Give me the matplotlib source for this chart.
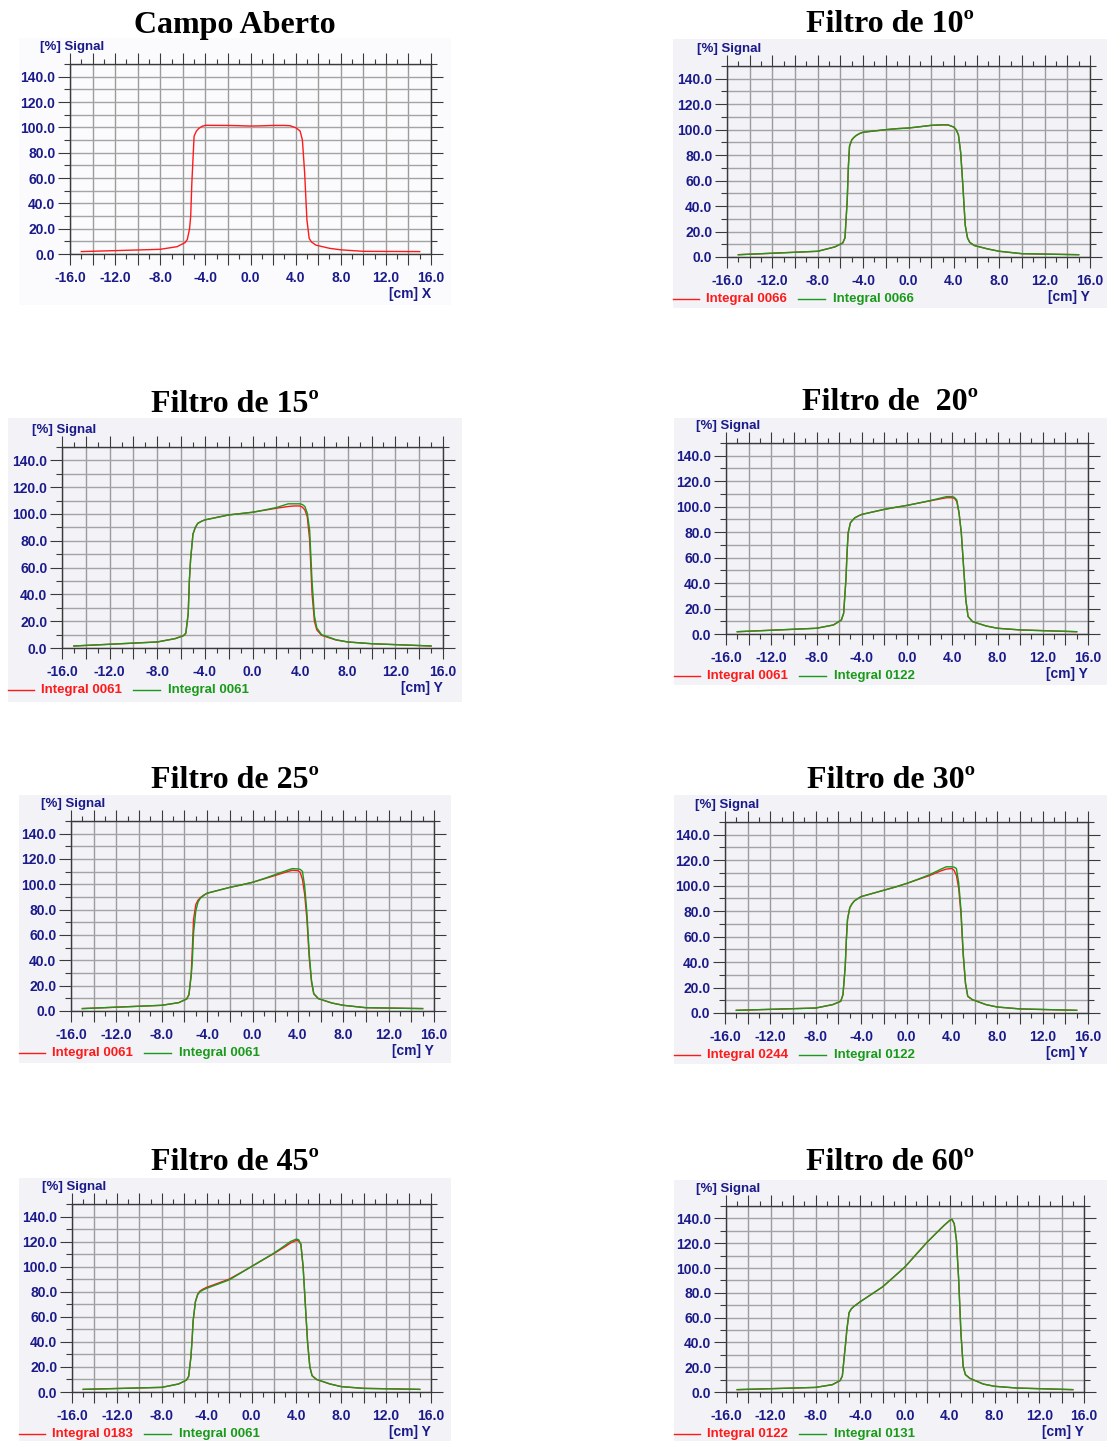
import numpy as np
import matplotlib
matplotlib.use("Agg")
import matplotlib.pyplot as plt
from matplotlib.patches import Rectangle
from matplotlib.ticker import MultipleLocator, FuncFormatter

W, H = 1108, 1441

# posicoes (cm) em que os perfis foram lidos
pos = [-15.0, -8.0, -6.5, -5.8, -5.6, -5.4, -5.3, -5.2, -5.0, -4.8, -4.6, -4.3, -4.0,
       -2.0, -1.0, 0.0, 1.0, 2.0, 3.0, 3.5, 4.0, 4.2, 4.4, 4.6, 4.8, 5.0, 5.2, 5.4,
       5.8, 7.0, 8.0, 10.0, 15.0]

# sinal [%]
campo = [1.9, 3.7, 5.8, 9.0, 11.5, 20.0, 30.0, 56.0, 93.0, 97.0, 99.0, 100.8, 101.6,
         101.5, 101.3, 101.0, 101.2, 101.5, 101.5, 101.3, 99.7, 98.5, 97.0, 90.0, 64.0,
         27.0, 12.4, 9.5, 7.0, 4.5, 3.3, 2.1, 1.9]

f10_red = [1.8, 4.5, 7.9, 11.0, 15.0, 45.0, 71.0, 87.0, 92.0, 94.0, 95.5, 97.0, 98.0,
           100.0, 100.8, 101.3, 102.3, 103.4, 103.8, 103.7, 102.0, 100.0, 96.0, 82.0, 55.0,
           25.0, 15.0, 11.5, 9.0, 6.3, 4.5, 2.6, 1.8]
f10_green = f10_red

f15_red = [1.5, 4.5, 7.0, 9.2, 11.0, 25.7, 50.7, 66.0, 85.0, 90.0, 93.0, 94.5, 95.6,
           99.3, 100.3, 101.3, 102.8, 104.3, 105.6, 106.0, 106.0, 105.0, 103.0, 98.0, 80.6,
           40.7, 20.0, 13.5, 9.5, 6.0, 4.5, 3.2, 1.5]
f15_green = [1.5, 4.5, 7.0, 9.2, 11.0, 25.7, 50.7, 66.0, 85.0, 90.0, 93.0, 94.5, 95.6,
             99.3, 100.3, 101.3, 103.0, 104.8, 107.6, 107.6, 107.6, 107.0, 105.6, 100.6, 88.0,
             50.0, 24.0, 15.0, 10.0, 6.2, 4.5, 3.2, 1.5]

f20_red = [1.8, 4.5, 7.1, 11.0, 16.3, 42.6, 63.7, 79.5, 87.4, 89.5, 91.3, 92.7, 93.9,
           97.9, 99.5, 101.0, 102.8, 104.5, 106.2, 107.0, 107.0, 106.5, 104.0, 95.0, 79.5,
           53.0, 26.8, 13.7, 9.7, 6.3, 4.5, 3.2, 1.8]
f20_green = [1.8, 4.5, 7.1, 11.0, 16.3, 42.6, 63.7, 79.5, 87.4, 89.5, 91.3, 92.7, 93.9,
             97.9, 99.5, 101.0, 102.8, 104.7, 106.8, 107.9, 107.9, 107.2, 105.3, 95.3, 79.5,
             53.0, 26.8, 13.7, 9.7, 6.3, 4.5, 3.2, 1.8]

f25_red = [1.9, 4.5, 6.6, 9.5, 13.0, 30.0, 50.0, 72.0, 84.0, 87.5, 89.5, 91.5, 93.0,
           97.6, 99.5, 101.6, 104.3, 107.0, 109.8, 111.1, 110.8, 109.5, 104.0, 92.0, 72.0,
           42.0, 23.0, 13.5, 9.8, 6.3, 4.5, 2.6, 1.9]
f25_green = [1.9, 4.5, 6.6, 9.5, 13.0, 28.0, 40.0, 61.0, 79.0, 86.0, 89.0, 91.2, 93.0,
             97.6, 99.5, 101.6, 104.5, 107.7, 110.9, 112.4, 112.2, 111.8, 110.3, 98.4, 77.2,
             45.5, 24.3, 13.8, 9.8, 6.3, 4.5, 2.6, 1.9]

f30_red = [2.1, 3.9, 6.6, 9.2, 14.4, 36.8, 57.8, 73.5, 82.7, 85.8, 88.0, 89.8, 91.4,
           96.4, 98.9, 101.7, 104.8, 107.8, 111.5, 113.0, 113.5, 112.0, 108.0, 98.0, 78.0,
           45.0, 23.0, 13.1, 10.5, 6.6, 4.7, 3.2, 2.1]
f30_green = [2.1, 3.9, 6.6, 9.2, 14.4, 36.8, 57.8, 73.5, 82.7, 85.8, 88.0, 89.8, 91.4,
             96.4, 98.9, 101.7, 105.0, 108.5, 112.8, 114.8, 114.8, 114.5, 113.5, 102.4, 81.4,
             47.3, 23.6, 13.1, 10.5, 6.6, 4.7, 3.2, 2.1]

f45_red = [2.1, 3.7, 6.4, 9.5, 12.5, 28.0, 41.0, 57.0, 72.0, 78.0, 80.5, 82.2, 83.5,
           90.0, 95.0, 100.1, 105.3, 110.5, 116.0, 119.0, 121.0, 120.5, 118.0, 100.0, 70.0,
           40.0, 20.0, 13.0, 10.0, 6.4, 4.3, 2.9, 2.1]
f45_green = [2.1, 3.7, 6.4, 9.5, 12.5, 28.0, 41.0, 57.0, 72.0, 77.5, 80.0, 81.5, 82.7,
             89.4, 94.7, 100.1, 105.5, 110.8, 117.0, 120.2, 122.0, 121.5, 118.0, 100.0, 69.0,
             39.0, 20.0, 13.0, 10.0, 6.4, 4.3, 2.9, 2.1]

f60_red = [1.9, 3.7, 5.9, 9.2, 13.0, 31.3, 40.0, 50.0, 64.0, 67.0, 68.8, 70.8, 72.8,
           84.8, 92.8, 100.9, 111.0, 121.0, 130.0, 134.4, 138.4, 139.3, 135.7, 122.3, 90.2,
           47.4, 20.6, 14.0, 11.0, 6.4, 4.6, 3.2, 1.9]
f60_green = f60_red

titles = ["Campo Aberto", "Filtro de 10º", "Filtro de 15º", "Filtro de  20º",
          "Filtro de 25º", "Filtro de 30º", "Filtro de 45º", "Filtro de 60º"]
legend_red = [None, "Integral 0066", "Integral 0061", "Integral 0061",
              "Integral 0061", "Integral 0244", "Integral 0183", "Integral 0122"]
legend_green = [None, "Integral 0066", "Integral 0061", "Integral 0122",
                "Integral 0061", "Integral 0122", "Integral 0061", "Integral 0131"]
series_red = [campo, f10_red, f15_red, f20_red, f25_red, f30_red, f45_red, f60_red]
series_green = [None, f10_green, f15_green, f20_green, f25_green, f30_green, f45_green, f60_green]

# caixas em pixels: eixo (L, R, T, B), fundo (x0, x1, y0, y1), titulo (x, y)
axes_px = [(70, 431, 64, 254), (727, 1090, 66, 257),
           (62, 443, 447, 648), (726, 1088, 443, 634),
           (71, 434, 821, 1011), (725, 1088, 822, 1013),
           (72, 431, 1204, 1392), (726, 1084, 1206, 1392)]
bg_px = [(19, 451, 38, 305), (673, 1107, 39, 308),
         (8, 462, 418, 702), (674, 1107, 418, 685),
         (19, 451, 795, 1063), (674, 1107, 795, 1064),
         (19, 451, 1178, 1441), (674, 1107, 1180, 1441)]
title_px = [(235, 25), (890, 25), (235, 404), (890, 403),
            (235, 780), (891, 780), (235, 1163), (890, 1163)]

NAVY = "#1a1a8a"
DARK = "#3a3a3a"
RED = "#ff1a1a"
GREEN = "#1a9a1a"

fig = plt.figure(figsize=(W / 100, H / 100), dpi=100)
fig.patch.set_facecolor("white")


def fx(x):
    return x / W


def fy(y):
    return 1 - y / H


for i in range(8):
    L, R, T, B = axes_px[i]
    x0, x1, y0, y1 = bg_px[i]
    bgc = "#fbfbfd" if i == 0 else "#f2f2f7"
    fig.add_artist(Rectangle((fx(x0), fy(y1)), fx(x1 - x0), (y1 - y0) / H,
                             transform=fig.transFigure, fc=bgc, ec="none", zorder=-5))

    tx, ty = title_px[i]
    fig.text(fx(tx), fy(ty), titles[i], ha="center", va="center",
             family="Liberation Serif", weight="bold", fontsize=23)

    ax = fig.add_axes([fx(L), fy(B), fx(R - L), (B - T) / H])
    ax.set_facecolor(bgc)
    ax.set_xlim(-16, 16)
    ax.set_ylim(0, 150)

    ax.xaxis.set_major_locator(MultipleLocator(2))
    ax.xaxis.set_minor_locator(MultipleLocator(1))
    ax.yaxis.set_major_locator(MultipleLocator(20))
    ax.yaxis.set_minor_locator(MultipleLocator(10))
    ax.xaxis.set_major_formatter(FuncFormatter(
        lambda v, p: "%.1f" % v if abs(v) % 4 < 1e-6 else ""))
    ax.yaxis.set_major_formatter(FuncFormatter(
        lambda v, p: "%.1f" % v if v <= 140 else ""))

    ax.tick_params(axis="x", which="both", direction="out", top=True, bottom=True,
                   color=DARK, width=0.8, labelcolor=NAVY, labelsize=10, pad=4)
    ax.tick_params(axis="x", which="major", length=8)
    ax.tick_params(axis="x", which="minor", length=3.5)
    ax.tick_params(axis="y", which="both", direction="out", left=True, right=True,
                   color=DARK, width=0.8, labelcolor=NAVY, labelsize=10, pad=2)
    ax.tick_params(axis="y", which="major", length=8.5)
    ax.tick_params(axis="y", which="minor", length=4.5)
    for lab in ax.get_xticklabels() + ax.get_yticklabels():
        lab.set_family("Liberation Sans")
        lab.set_weight("bold")

    for s in ax.spines.values():
        s.set_color(DARK)
        s.set_linewidth(1.0)

    ax.set_axisbelow(True)
    ax.grid(which="major", axis="x", color="#9c9c9c", lw=1.0)
    ax.grid(which="both", axis="y", color="#a4a4a4", lw=1.0)

    ax.plot(pos, series_red[i], color=RED, lw=1.0)
    if series_green[i] is not None:
        ax.plot(pos, series_green[i], color=GREEN, lw=1.0)

    fig.text(fx(L - 30), fy(T - 17), "[%] Signal", ha="left", va="center",
             color=NAVY, family="Liberation Sans", weight="bold", fontsize=9.5)
    fig.text(fx(R), fy(B + 40), "[cm] X" if i == 0 else "[cm] Y", ha="right",
             va="center", color=NAVY, family="Liberation Sans", weight="bold", fontsize=10)

    if legend_red[i] is not None:
        ly = fy(B + 42)
        fig.add_artist(plt.Line2D([fx(x0), fx(x0 + 26)], [ly, ly],
                                  transform=fig.transFigure, color=RED, lw=1.0))
        fig.text(fx(x0 + 33), ly, legend_red[i], ha="left", va="center",
                 color=RED, family="Liberation Sans", weight="bold", fontsize=9.5)
        fig.add_artist(plt.Line2D([fx(x0 + 125), fx(x0 + 152)], [ly, ly],
                                  transform=fig.transFigure, color=GREEN, lw=1.0))
        fig.text(fx(x0 + 160), ly, legend_green[i], ha="left", va="center",
                 color=GREEN, family="Liberation Sans", weight="bold", fontsize=9.5)

fig.savefig("out.png", dpi=100)
